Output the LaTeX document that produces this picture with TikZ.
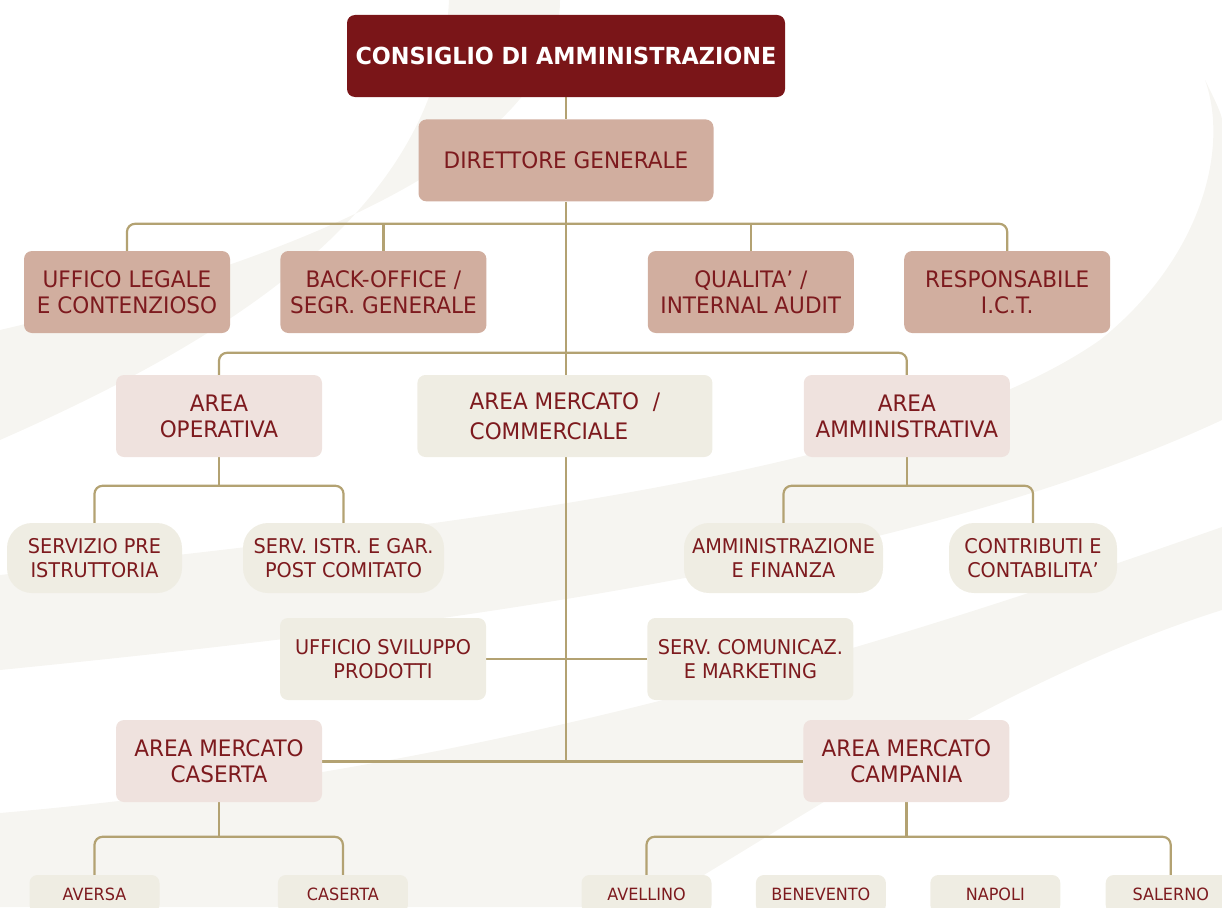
\documentclass[tikz,border=0pt]{standalone}
\usepackage{fontspec}
\setmainfont{DejaVu Sans}[FakeStretch=0.95]
\usepackage{tikz}
\usetikzlibrary{positioning}

\definecolor{cdared}{HTML}{7A1518}
\definecolor{dirrose}{HTML}{D1AE9F}
\definecolor{areapink}{HTML}{EFE2DE}
\definecolor{unitbeige}{HTML}{EFEDE3}
\definecolor{textred}{HTML}{7D1A1E}
\definecolor{wiregold}{HTML}{B3A272}
\definecolor{swooshgrey}{HTML}{F6F5F1}

\newcommand{\toptxt}{\bfseries\fontsize{23.5}{28}\selectfont}
\newcommand{\bigtxt}{\fontsize{22.7}{26}\selectfont}
\newcommand{\smalltxt}{\fontsize{20.3}{24}\selectfont}
\newcommand{\citytxt}{\fontsize{16.9}{20}\selectfont}

\pgfdeclarelayer{swoosh}
\pgfdeclarelayer{wires}
\pgfsetlayers{swoosh,wires,main}

\begin{document}
\begin{tikzpicture}[x=1pt, y=-1pt,
        boxbase/.style={rectangle, rounded corners=8pt, align=center, inner sep=2pt, text=textred},
        topbox/.style={boxbase, fill=cdared, text=white, minimum width=438pt, minimum height=82pt, font=\toptxt},
        dirbox/.style={boxbase, fill=dirrose, minimum width=206pt, minimum height=82pt, font=\bigtxt},
        areabox/.style={boxbase, fill=areapink, minimum width=206pt, minimum height=82pt, font=\bigtxt},
        unitbox/.style={boxbase, fill=unitbeige, minimum width=206pt, minimum height=82pt, font=\bigtxt},
        servbox/.style={boxbase, fill=unitbeige, rounded corners=25pt, minimum height=70pt, font=\smalltxt},
        citybox/.style={boxbase, fill=unitbeige, minimum width=130pt, minimum height=38pt, font=\citytxt},
        wire/.style={draw=wiregold, line width=2.2pt, rounded corners=8pt}
    ]
    \useasboundingbox (0,0) rectangle (1222,907);

    % top of the chart
    \node[topbox] (cda) at (566,56) {CONSIGLIO DI AMMINISTRAZIONE};
    \node[dirbox, minimum width=295pt, below=22pt of cda] (dg) {DIRETTORE GENERALE};

    % staff offices
    \node[dirbox] (legale) at (127,292) {UFFICO LEGALE\\E CONTENZIOSO};
    \node[dirbox, right=50pt of legale] (backoff) {BACK-OFFICE /\\SEGR. GENERALE};
    \node[dirbox, right=161pt of backoff] (qualita) {QUALITA’ /\\INTERNAL AUDIT};
    \node[dirbox, right=50pt of qualita] (ict) {RESPONSABILE\\I.C.T.};

    % areas
    \node[areabox] (operativa) at (219,416) {AREA\\OPERATIVA};
    \node[unitbox, minimum width=295pt, align=left, right=95pt of operativa] (mercato) {AREA MERCATO \ /\\[4pt]COMMERCIALE};
    \node[areabox, right=91pt of mercato] (amministr) {AREA\\AMMINISTRATIVA};

    \node[servbox, minimum width=175pt] (prestr) at (94.5,558) {SERVIZIO PRE\\ISTRUTTORIA};
    \node[servbox, minimum width=201pt] (postcom) at (343.5,558) {SERV. ISTR. E GAR.\\POST COMITATO};
    \node[servbox, minimum width=199pt] (ammfin) at (783.5,558) {AMMINISTRAZIONE\\E FINANZA};
    \node[servbox, minimum width=168pt] (contab) at (1033,558) {CONTRIBUTI E\\CONTABILITA’};

    \node[unitbox, font=\smalltxt] (sviluppo) at (383,659) {UFFICIO SVILUPPO\\PRODOTTI};
    \node[unitbox, font=\smalltxt, right=161pt of sviluppo] (comunic) {SERV. COMUNICAZ.\\E MARKETING};

    % market areas and branches
    \node[areabox] (mcaserta) at (219,761) {AREA MERCATO\\CASERTA};
    \node[areabox, right=481pt of mcaserta] (mcampania) {AREA MERCATO\\CAMPANIA};

    \node[citybox] (aversa) at (94.5,894) {AVERSA};
    \node[citybox, right=118pt of aversa] (caserta) {CASERTA};
    \node[citybox] (avellino) at (646.5,894) {AVELLINO};
    \node[citybox, right=44pt of avellino] (benevento) {BENEVENTO};
    \node[citybox, right=44pt of benevento] (napoli) {NAPOLI};
    \node[citybox, right=45pt of napoli] (salerno) {SALERNO};

    \begin{pgfonlayer}{wires}
        \draw[wire] (cda) -- (dg);
        \draw[wire] (dg.south) -- (dg.south |- mcaserta.east);
        \draw[wire] (legale.north) |- ([yshift=27pt]ict.north) -- (ict.north);
        \draw[wire] (backoff.north) -- ([yshift=27pt]backoff.north);
        \draw[wire] (qualita.north) -- ([yshift=27pt]qualita.north);
        \draw[wire] (operativa.north) |- ([yshift=22pt]amministr.north) -- (amministr.north);

        \coordinate (opbus) at ([yshift=37pt]postcom.north);
        \draw[wire] (prestr.north) |- (opbus) -- (postcom.north);
        \draw[wire] (operativa.south) -- (operativa.south |- opbus);
        \coordinate (ammbus) at ([yshift=37pt]contab.north);
        \draw[wire] (ammfin.north) |- (ammbus) -- (contab.north);
        \draw[wire] (amministr.south) -- (amministr.south |- ammbus);

        \draw[wire] (sviluppo.east) -- (comunic.west);
        \draw[wire, line width=3pt] (mcaserta.east) -- (mcampania.west);

        \coordinate (casbus) at ([yshift=38pt]caserta.north);
        \draw[wire] (aversa.north) |- (casbus) -- (caserta.north);
        \draw[wire] (mcaserta.south) -- (mcaserta.south |- casbus);
        \coordinate (campbus) at ([yshift=38pt]salerno.north);
        \draw[wire] (avellino.north) |- (campbus) -- (salerno.north);
        \draw[wire] (mcampania.south) -- (mcampania.south |- campbus);
    \end{pgfonlayer}

    % faint background swooshes
    \begin{pgfonlayer}{swoosh}
        \fill[swooshgrey] (449,0) .. controls (440,200) and (250,330) .. (0,440)
            -- (0,330) .. controls (300,260) and (560,150) .. (560,0) -- cycle;
        \fill[swooshgrey] (0,575) .. controls (400,530) and (900,480) .. (1100,340)
            .. controls (1200,260) and (1230,150) .. (1205,80)
            .. controls (1215,100) and (1222,115) .. (1222,120)
            -- (1222,420) .. controls (900,570) and (400,630) .. (0,670) -- cycle;
        \fill[swooshgrey] (0,813) .. controls (500,770) and (900,640) .. (1222,527)
            -- (1222,610) .. controls (1000,680) and (800,820) .. (650,907)
            -- (0,907) -- cycle;
    \end{pgfonlayer}
\end{tikzpicture}
\end{document}
